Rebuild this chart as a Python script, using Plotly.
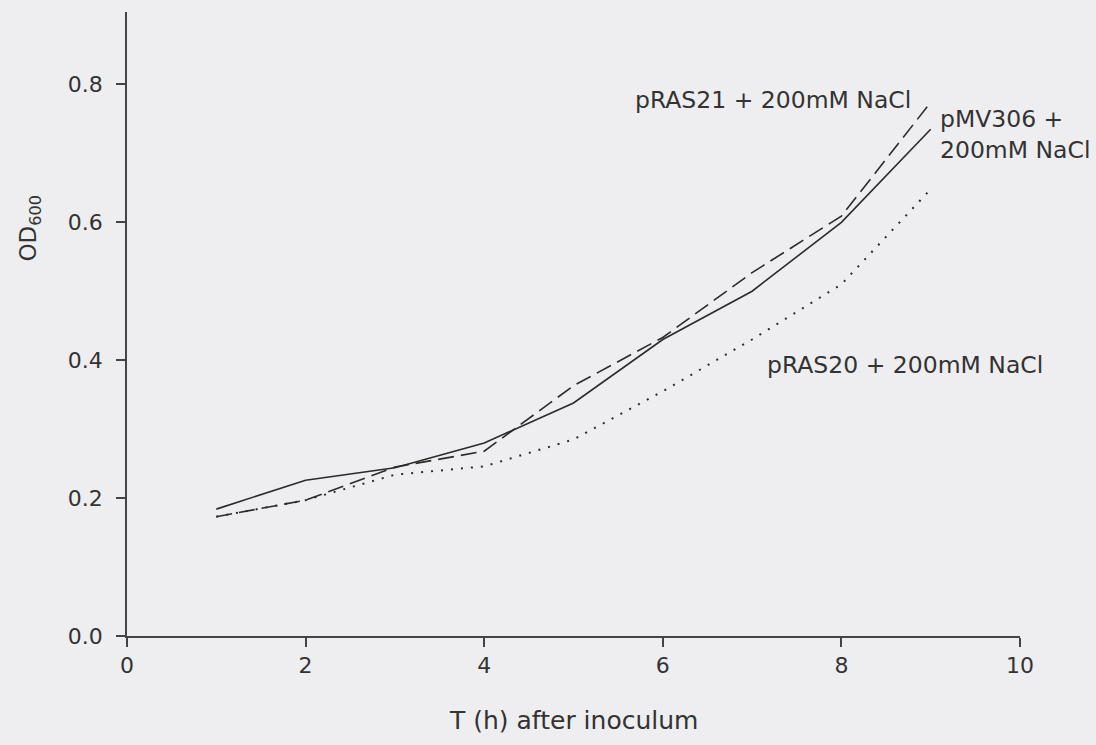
import plotly.graph_objects as go

# Data
hours = [1, 2, 3, 4, 5, 6, 7, 8, 9]
pMV306_nacl = [0.184, 0.226, 0.244, 0.280, 0.338, 0.430, 0.500, 0.600, 0.735]
pRAS21_nacl = [0.173, 0.197, 0.245, 0.268, 0.363, 0.433, 0.527, 0.609, 0.774]
pRAS20_nacl = [0.173, 0.197, 0.234, 0.246, 0.285, 0.355, 0.430, 0.510, 0.648]

x_ticks = [0, 2, 4, 6, 8, 10]
y_ticks = [0.0, 0.2, 0.4, 0.6, 0.8]

FONT = "DejaVu Sans, Liberation Sans, Arial, sans-serif"
INK = "#2b2b2b"
TXT = "#333333"
BG = "#eeeef0"

fig = go.Figure()
fig.add_trace(go.Scatter(x=hours, y=pMV306_nacl, mode="lines", name="pMV306 + 200mM NaCl",
                         line=dict(color=INK, width=1.6, dash="solid")))
fig.add_trace(go.Scatter(x=hours, y=pRAS21_nacl, mode="lines", name="pRAS21 + 200mM NaCl",
                         line=dict(color=INK, width=1.6, dash="16px,7px")))
fig.add_trace(go.Scatter(x=hours, y=pRAS20_nacl, mode="lines", name="pRAS20 + 200mM NaCl",
                         line=dict(color=INK, width=2, dash="2px,8px")))

axis_common = dict(showline=True, linecolor="#444444", linewidth=1.5, ticks="outside",
                   ticklen=9, tickwidth=1.5, tickcolor="#444444", showgrid=False,
                   zeroline=False, tickfont=dict(family=FONT, size=22, color=TXT))

fig.update_xaxes(range=[0, 10], tickvals=x_ticks, **axis_common)
fig.update_yaxes(range=[0, 0.905], tickvals=y_ticks, tickformat=".1f",
                 ticklabelstandoff=9, **axis_common)

annos = [
    dict(x=5.666, y=0.777, text="pRAS21 + 200mM NaCl"),
    dict(x=9.08, y=0.728, text="pMV306 +<br>200mM NaCl"),
    dict(x=7.145, y=0.3935, text="pRAS20 + 200mM NaCl"),
]
for a in annos:
    fig.add_annotation(showarrow=False, xref="x", yref="y", xanchor="left",
                       yanchor="middle", align="left",
                       font=dict(family=FONT, size=23.5, color=TXT), **a)

# axis titles
fig.add_annotation(x=0.5, y=-0.135, xref="paper", yref="paper", text="T (h) after inoculum",
                   showarrow=False, xanchor="center", yanchor="middle",
                   font=dict(family=FONT, size=25, color=TXT))
fig.add_annotation(x=-0.109, y=0.654, xref="paper", yref="paper", text="OD<sub>600</sub>",
                   showarrow=False, textangle=-90, xanchor="center", yanchor="middle",
                   font=dict(family=FONT, size=23, color=TXT))

fig.update_layout(width=1096, height=745, autosize=False,
                  margin=dict(l=127, r=76, t=12, b=109),
                  paper_bgcolor=BG, plot_bgcolor=BG, showlegend=False)

fig.write_html("out.html", config={"displayModeBar": False},
               post_script="document.body.style.margin='0';document.body.style.overflow='hidden';")
